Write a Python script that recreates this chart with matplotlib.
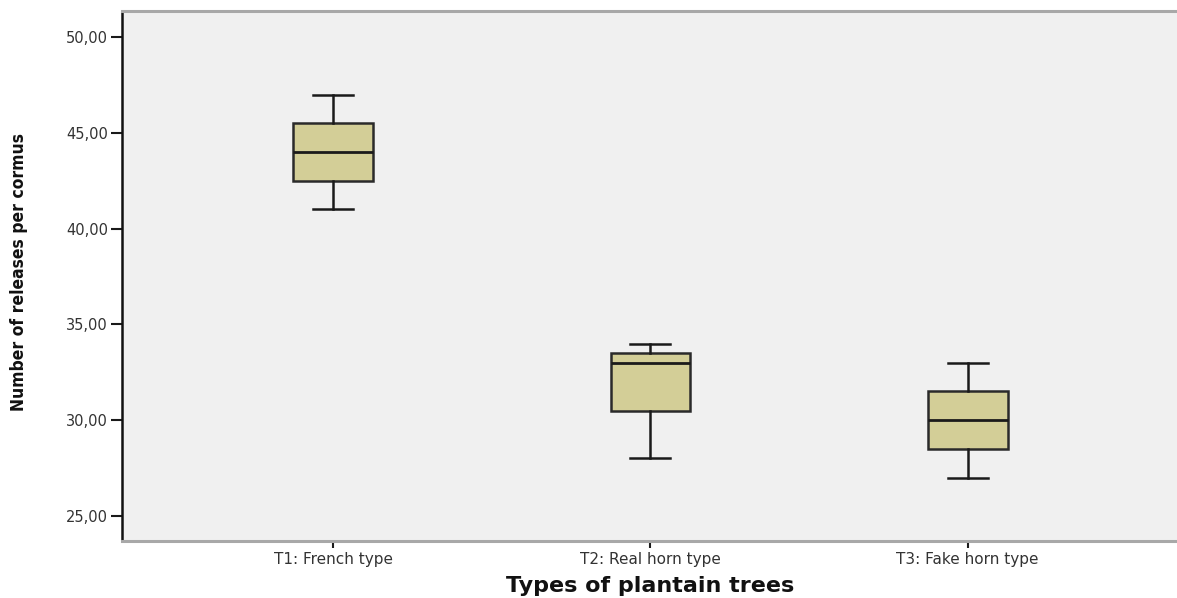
import matplotlib
matplotlib.use("Agg")
import matplotlib.pyplot as plt
from matplotlib import font_manager

# box statistics for each plantain type
categories = ["T1: French type", "T2: Real horn type", "T3: Fake horn type"]
whisker_low = [41.0, 28.0, 27.0]
q1 = [42.5, 30.5, 28.5]
median = [44.0, 33.0, 30.0]
q3 = [45.5, 33.5, 31.5]
whisker_high = [47.0, 34.0, 33.0]
y_ticks = [25, 30, 35, 40, 45, 50]

stats = []
for i, name in enumerate(categories):
    stats.append({
        "label": name,
        "whislo": whisker_low[i],
        "q1": q1[i],
        "med": median[i],
        "q3": q3[i],
        "whishi": whisker_high[i],
        "fliers": [],
    })

fig = plt.figure(figsize=(11.77, 5.98), dpi=100)
ax = fig.add_axes([0.1037, 0.0953, 0.8963, 0.8863])
ax.set_facecolor("#F0F0F0")

ax.bxp(stats, positions=[1, 2, 3], widths=0.252, patch_artist=True,
       showfliers=False,
       boxprops=dict(facecolor="#D3CE97", edgecolor="#2a2a2a", linewidth=1.8),
       medianprops=dict(color="#1a1a1a", linewidth=2.0),
       whiskerprops=dict(color="#1a1a1a", linewidth=1.8),
       capprops=dict(color="#1a1a1a", linewidth=1.8),
       capwidths=0.126)

ax.set_xlim(0.334, 3.66)
ax.set_ylim(23.69, 51.36)
ax.set_yticks(y_ticks)
ax.set_yticklabels([f"{v:.2f}".replace(".", ",") for v in y_ticks])
ax.set_xticks([1, 2, 3])
ax.set_xticklabels(categories)

ax.tick_params(axis="y", length=8, width=1.5, color="#1a1a1a", labelsize=10.5,
               labelcolor="#333333", pad=2)
ax.tick_params(axis="x", length=5, width=1.5, color="#1a1a1a", labelsize=11,
               labelcolor="#333333", pad=3)

for side in ["top", "bottom"]:
    ax.spines[side].set_color("#A8A8A8")
    ax.spines[side].set_linewidth(2.2)
ax.spines["left"].set_color("#111111")
ax.spines["left"].set_linewidth(1.8)
ax.spines["right"].set_visible(False)

# a narrow face for the y label, if one is installed
names = {f.name for f in font_manager.fontManager.ttflist}
condensed = [f for f in font_manager.fontManager.ttflist
             if f.name == "DejaVu Sans" and "ondensed" in str(f.stretch) + f.fname]
if "Liberation Sans Narrow" in names:
    ylab_font = dict(family="Liberation Sans Narrow", fontsize=13.5)
elif condensed:
    ylab_font = dict(family="DejaVu Sans", fontstretch="condensed", fontsize=12.5)
else:
    ylab_font = dict(family="DejaVu Sans", fontsize=11.2)

fig.text(0.016, 0.545, "Number of releases per cormus", rotation=90,
         ha="center", va="center", fontweight="bold", color="#111111",
         **ylab_font)
fig.text(0.552, 0.02, "Types of plantain trees", ha="center", va="center",
         fontsize=16, fontweight="bold", color="#111111")

fig.savefig("out.png", dpi=100)
